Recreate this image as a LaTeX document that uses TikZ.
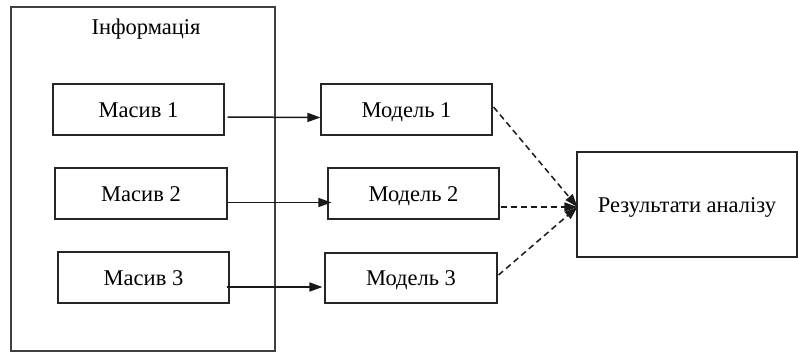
\documentclass[tikz,border=0pt]{standalone}
\usepackage{fontspec}
\setmainfont{Liberation Serif}
\usetikzlibrary{arrows.meta,calc}
\begin{document}
\begin{tikzpicture}[x=1pt,y=-1pt,
  box/.style={draw=black!85,line width=1.1pt,inner sep=0pt,font=\fontsize{22.5}{26}\selectfont,text height=15pt,text depth=0pt},
  arr/.style={-{Triangle[length=13pt,width=9pt]},line width=1.5pt,black!90},
  darr/.style={-{Triangle[length=13pt,width=9pt]},line width=1.5pt,black!90,dash pattern=on 6pt off 4pt}]
\useasboundingbox (0,0) rectangle (798,354);
\node[draw=black!75,line width=1.1pt,minimum width=264pt,minimum height=344pt,inner sep=0pt] (info) at (143,179) {};
\node[font=\fontsize{22.5}{26}\selectfont,inner sep=0pt] (infolbl) at (146,29) {Інформація};
\node[box,minimum width=171pt,minimum height=51pt] (m1) at (138.5,109.5) {Масив 1};
\node[box,minimum width=172pt,minimum height=51pt] (m2) at (141,193.5) {Масив 2};
\node[box,minimum width=171pt,minimum height=51pt] (m3) at (143.5,277.5) {Масив 3};
\node[box,minimum width=171pt,minimum height=51pt] (d1) at (406.5,109.5) {Модель 1};
\node[box,minimum width=171pt,minimum height=51pt] (d2) at (413.5,193.5) {Модель 2};
\node[box,minimum width=172pt,minimum height=50pt] (d3) at (411,278) {Модель 3};
\node[box,minimum width=220pt,minimum height=105pt] (res) at (687,204.5) {Результати аналізу};
\draw[arr] ($(m1.east)+(3,7.5)$) -- ($(d1.west)+(0,8)$);
\draw[arr] ($(m2.east)+(0,9)$) -- ($(d2.west)+(4,9)$);
\draw[arr] ($(m3.east)+(-3,9.5)$) -- ($(d3.west)+(-2,9)$);
\draw[darr] ($(d1.east)+(1,-2.5)$) -- ($(res.west)+(1,2.5)$);
\draw[darr] ($(d2.east)+(1,13.5)$) -- ($(res.west)+(1,2.5)$);
\draw[darr] ($(d3.east)+(1,-3)$) -- ($(res.west)+(1,2.5)$);
\end{tikzpicture}
\end{document}
